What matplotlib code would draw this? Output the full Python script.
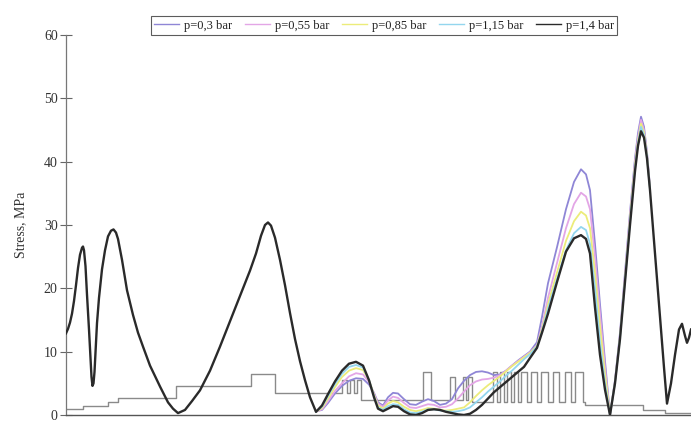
import matplotlib
matplotlib.use("Agg")
import matplotlib.pyplot as plt

# Position along the profile (arbitrary units) and stress of the p=1,4 bar case
x_pos = [66, 68, 70, 72, 74, 76, 78, 80, 82, 83, 84, 85.5, 87, 89, 90.5, 91.5, 92.5, 93.5, 94.5,
         95.5, 97, 99, 102, 105, 108, 111, 113.5, 116, 118, 122, 127, 133, 138, 143, 150, 160, 168,
         173, 178, 185, 192, 200, 210, 220, 230, 240, 250, 256, 261, 265, 268, 271, 275, 280, 285,
         290, 295, 300, 305, 310,
         316, 322, 328, 335, 342, 349, 356, 363, 369, 374, 378, 383, 388, 393, 398, 404, 410, 416,
         422, 428, 434, 440, 446, 452, 458, 464, 470, 476, 482, 488, 494, 500, 506, 512, 518, 524,
         530, 537, 542, 548, 557, 566, 574, 581, 586, 590, 595, 600, 605, 610, 615, 620, 625, 630,
         635, 638, 641, 644, 647, 650, 653, 656, 660, 664, 667, 671, 675, 679, 682, 685, 687, 689, 691]
stress_p14 = [12.9, 13.6, 14.6, 16.0, 18.0, 20.5, 23.2, 25.3, 26.4, 26.6, 26.0, 23.5, 19.0, 13.5, 9.0,
              6.0, 4.6, 5.0, 6.8, 10.0, 14.5, 18.5, 23.0, 26.0, 28.2, 29.1, 29.3, 28.8, 27.8, 24.5,
              19.7, 15.8, 13.0, 10.8, 7.8, 4.5, 2.0, 1.0, 0.3, 0.8, 2.2, 3.9, 7.0, 10.8, 14.8, 18.8,
              22.8, 25.5, 28.3, 30.0, 30.4, 29.9, 28.0, 24.5, 20.5, 16.1, 12.0, 8.5, 5.5, 2.8,
              0.5, 1.5, 3.3, 5.3, 7.0, 8.1, 8.4, 7.8, 5.5, 2.8, 1.0, 0.6, 1.0, 1.4, 1.3, 0.6, 0.1, 0.0,
              0.3, 0.8, 0.9, 0.8, 0.5, 0.3, 0.1, 0.0, 0.2, 0.8, 1.6, 2.6, 3.6, 4.4, 5.2, 6.0, 6.8, 7.6,
              9.0, 10.6, 13.0, 16.0, 21.0, 25.8, 27.9, 28.4, 27.8, 25.5, 17.0, 9.5, 4.0, 0.0, 5.0, 12.0,
              21.0, 30.0, 38.5, 42.5, 44.8, 43.8, 40.5, 35.5, 29.5, 23.5, 15.5, 7.5, 1.8, 5.0, 9.5, 13.5,
              14.4, 12.5, 11.4, 12.2, 13.5]

# Section where the lower-pressure cases depart from the p=1,4 bar curve
x_mid = [316, 322, 328, 335, 342, 349, 356, 363, 369, 374, 378, 383, 388, 393, 398, 404, 410, 416,
         422, 428, 434, 440, 446, 452, 458, 464, 470, 476, 482, 488, 494, 500, 506, 512, 518, 524,
         530, 537, 542, 548, 557, 566, 574, 581, 586, 590, 595, 600, 605, 610, 615, 620, 625, 630,
         635, 638, 641, 644, 647, 650]
stress_p03 = [0.6, 0.8, 1.9, 3.4, 4.6, 5.4, 5.8, 5.7, 4.8, 3.5, 2.0, 1.5, 2.8, 3.5, 3.4, 2.5, 1.7, 1.6,
              2.1, 2.5, 2.2, 1.6, 1.8, 2.5, 4.2, 5.4, 6.3, 6.8, 6.9, 6.7, 6.3, 6.4, 7.0, 7.8, 8.6, 9.3,
              10.0, 11.5, 15.5, 20.8, 26.5, 32.5, 36.8, 38.8, 38.0, 35.5, 27.0, 17.5, 8.5, 0.0, 5.5, 13.0,
              22.5, 32.0, 40.5, 44.5, 47.1, 45.5, 41.5, 36.0]
stress_p055 = [0.5, 0.9, 2.2, 3.8, 5.0, 6.1, 6.6, 6.4, 5.2, 3.4, 1.8, 1.3, 2.3, 2.9, 2.7, 1.9, 1.2, 1.1,
               1.4, 1.7, 1.6, 1.2, 1.3, 1.7, 2.6, 3.7, 4.7, 5.3, 5.6, 5.7, 5.9, 6.3, 7.0, 7.8, 8.5, 9.2,
               9.9, 11.0, 14.0, 18.5, 24.0, 29.5, 33.3, 35.1, 34.5, 32.5, 25.0, 16.0, 7.5, 0.0, 5.3, 12.6,
               22.0, 31.5, 40.0, 43.8, 46.6, 45.0, 41.2, 35.8]
stress_p085 = [0.5, 1.1, 2.6, 4.4, 6.0, 7.0, 7.4, 7.1, 5.5, 3.2, 1.5, 1.0, 1.8, 2.2, 2.0, 1.3, 0.8, 0.6,
               0.8, 1.1, 1.0, 0.8, 0.7, 0.8, 1.0, 1.2, 2.0, 3.0, 3.9, 4.7, 5.4, 6.1, 6.9, 7.7, 8.4, 9.1,
               9.8, 10.9, 13.5, 17.5, 22.5, 27.5, 30.6, 32.1, 31.5, 29.5, 22.5, 14.0, 6.5, 0.0, 5.2, 12.4,
               21.6, 31.0, 39.5, 43.3, 46.0, 44.6, 41.0, 35.7]
stress_p115 = [0.5, 1.3, 3.0, 4.9, 6.5, 7.6, 7.9, 7.5, 5.5, 3.0, 1.2, 0.8, 1.4, 1.7, 1.6, 0.9, 0.4, 0.3,
               0.5, 0.9, 0.9, 0.7, 0.6, 0.5, 0.6, 0.8, 1.2, 2.0, 2.8, 3.7, 4.5, 5.3, 6.2, 7.0, 7.9, 8.8,
               9.6, 10.8, 13.2, 16.8, 21.5, 26.0, 28.7, 29.7, 29.2, 27.0, 20.0, 11.5, 5.0, 0.0, 5.1, 12.2,
               21.3, 30.5, 39.0, 42.9, 45.5, 44.2, 40.8, 35.6]

# Stepped trace along the bottom: breakpoints and levels
step_x = [66, 83, 108, 118, 176, 251, 275, 342, 347, 350, 354, 357, 361, 423, 431, 450, 455, 463,
          466, 468, 472, 493, 497, 500, 504, 507, 511, 514, 518, 521, 527, 531, 537, 541, 548, 553,
          559, 565, 571, 575, 583, 585, 643, 665, 691]
step_y = [1.0, 1.5, 2.1, 2.7, 4.6, 6.5, 3.4, 5.6, 3.4, 5.6, 3.4, 5.6, 2.4, 6.8, 2.4, 6.0, 2.4, 6.0,
          2.4, 6.0, 2.1, 6.8, 2.1, 6.8, 2.1, 6.8, 2.1, 6.8, 2.1, 6.8, 2.1, 6.8, 2.1, 6.8, 2.1, 6.8,
          2.1, 6.8, 2.1, 6.8, 2.1, 1.6, 0.8, 0.3, 0.3]

y_ticks = [0, 10, 20, 30, 40, 50, 60]
series = [("p=0,3 bar", stress_p03, "#8f86d6"),
          ("p=0,55 bar", stress_p055, "#e3a6e6"),
          ("p=0,85 bar", stress_p085, "#ecec7a"),
          ("p=1,15 bar", stress_p115, "#93d6ee")]

plt.rcParams["font.family"] = ["Liberation Serif", "DejaVu Serif"]

fig = plt.figure(figsize=(6.91, 4.26), dpi=100)
ax = fig.add_axes([66 / 691, 11 / 426, 625 / 691, 380 / 426])

ax.step(step_x, step_y, where="post", color="#8a8a8a", lw=1.0, zorder=1)

handles = []
for label, vals, col in series:
    h, = ax.plot(x_mid, vals, color=col, lw=1.3, label=label, zorder=2)
    handles.append(h)
h, = ax.plot(x_pos, stress_p14, color="#2a2a2a", lw=1.7, label="p=1,4 bar", zorder=3)
handles.append(h)

ax.set_xlim(66, 691)
ax.set_ylim(0, 60)
ax.set_yticks(y_ticks)
ax.set_xticks([])
ax.tick_params(axis="y", direction="inout", length=8, width=0.8, color="#666666",
               labelsize=10, pad=2, labelcolor="#333333")
ax.set_ylabel("Stress, MPa", fontsize=10, color="#333333", labelpad=12)
for side in ("top", "right"):
    ax.spines[side].set_visible(False)
ax.spines["left"].set_color("#777777")
ax.spines["bottom"].set_color("#555555")
ax.spines["left"].set_linewidth(0.9)
ax.spines["bottom"].set_linewidth(1.0)

leg = fig.legend(handles=handles, loc="center", bbox_to_anchor=(384 / 691, 1 - 25.5 / 426),
                 ncol=5, fontsize=9, frameon=True, fancybox=False, handlelength=2.0,
                 handletextpad=0.4, columnspacing=1.0, borderpad=0.3, edgecolor="#333333")
leg.get_frame().set_linewidth(0.8)
for t in leg.get_texts():
    t.set_color("#222222")
for lh in leg.get_lines():
    lh.set_linewidth(1.0)

fig.savefig("out.png", dpi=100)
